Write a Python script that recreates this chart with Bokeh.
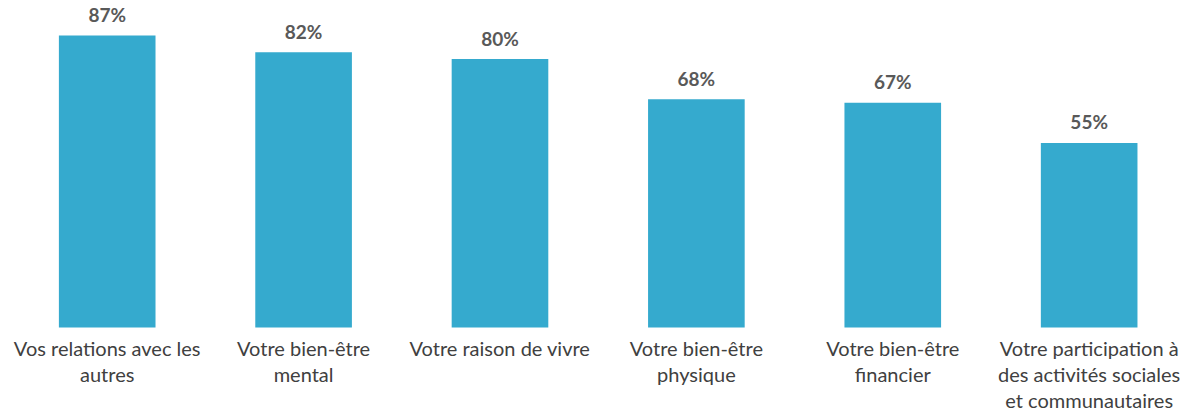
from bokeh.plotting import figure
from bokeh.models import Range1d, ColumnDataSource
from bokeh.core.properties import value
from bokeh.embed import file_html
from bokeh.resources import INLINE

categories = [
    "Vos relations avec les\nautres",
    "Votre bien-être\nmental",
    "Votre raison de vivre",
    "Votre bien-être\nphysique",
    "Votre bien-être\nfinancier",
    "Votre participation à\ndes activités sociales\net communautaires",
]
values = [87, 82, 80, 68, 67, 55]
value_labels = [f"{v}%" for v in values]

xs = list(range(len(categories)))

p = figure(width=1190, height=412, output_backend="svg", toolbar_location=None,
           x_range=Range1d(-0.5433, 5.516), y_range=Range1d(-25.33, 97.44),
           min_border=0, min_border_left=0, min_border_right=0,
           min_border_top=0, min_border_bottom=0)
p.axis.visible = False
p.grid.visible = False
p.outline_line_color = None
p.background_fill_color = "white"
p.border_fill_color = "white"

src = ColumnDataSource(dict(x=xs, top=values, lab=value_labels))
p.vbar(x="x", top="top", bottom=0, width=0.492, source=src,
       fill_color="#35AACE", line_color=None)

p.text(x="x", y="top", text="lab", source=src, y_offset=-21,
       text_align="center", text_baseline="alphabetic",
       text_font=value("Lato"), text_font_style="bold",
       text_font_size="19px", text_color="#595959")

lx, ly, lt, loff = [], [], [], []
for i, c in enumerate(categories):
    for j, line in enumerate(c.split("\n")):
        lx.append(i)
        ly.append(0)
        lt.append(line)
        loff.append(21 + 26 * j)
lsrc = ColumnDataSource(dict(x=lx, y=ly, t=lt, off=loff))
p.text(x="x", y="y", text="t", y_offset="off", source=lsrc,
       text_align="center", text_baseline="alphabetic",
       text_font=value("Lato"), text_font_size="20px", text_color="#404040")

open("out.html", "w").write(file_html(p, INLINE))
